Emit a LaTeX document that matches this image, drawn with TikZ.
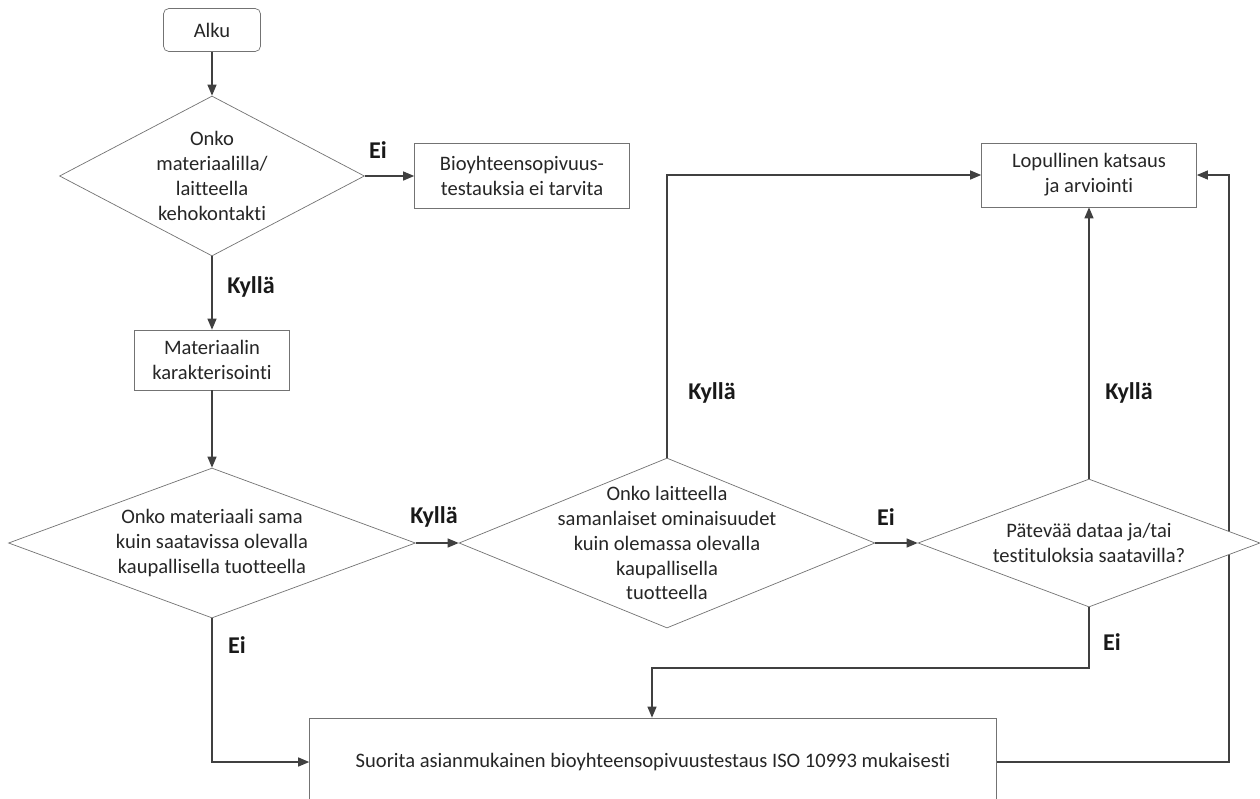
\documentclass[tikz,border=0pt]{standalone}
\usepackage{fontspec}
\setmainfont{Carlito}[Ligatures={NoCommon,NoRequired,NoContextual}]
\usetikzlibrary{positioning,arrows.meta,shapes.geometric,backgrounds}
\tikzset{
  box/.style={draw=black!55, fill=white, minimum width=4.3cm, minimum height=1.3cm, align=center, font=\fontsize{11.7}{14.2}\selectfont, text=black!85},
  start/.style={box, rounded corners=3pt, minimum width=1.94cm, minimum height=0.86cm},
  dec/.style={draw=black!55, fill=white, diamond, inner sep=0pt},
  txt/.style={align=center, font=\fontsize{11.7}{14.2}\selectfont, text=black!85},
  lbl/.style={font=\fontsize{13.7}{16}\selectfont\bfseries, text=black!90},
  arr/.style={-{Triangle[length=2.2mm, width=1.8mm]}, draw=black!75, line width=0.7pt},
}
\begin{document}
\begin{tikzpicture}[x=0.02cm, y=-0.02cm]
\useasboundingbox (0,0) rectangle (1260,798);
\node[start] (alku) at (212,30) {Alku};
\node[dec, minimum width=6.1cm, minimum height=3.2cm, label={[txt]center:Onko\\materiaalilla/\\laitteella\\kehokontakti}] (d1) at (212,176) {};
\node[box] (bio) at (522,176) {Bioyhteensopivuus-\\testauksia ei tarvita};
\node[box, minimum width=3.1cm, minimum height=1.2cm] (mat) at (212,360) {Materiaalin\\karakterisointi};
\node[dec, minimum width=8.14cm, minimum height=3cm, label={[txt]center:Onko materiaali sama\\kuin saatavissa olevalla\\kaupallisella tuotteella}] (d2) at (212,543) {};
\node[dec, minimum width=8.32cm, minimum height=3.4cm, label={[txt]center:Onko laitteella\\samanlaiset ominaisuudet\\kuin olemassa olevalla\\kaupallisella\\tuotteella}] (d3) at (667,543) {};
\node[dec, minimum width=6.84cm, minimum height=2.56cm, label={[txt]center:Pätevää dataa ja/tai\\testituloksia saatavilla?}] (d4) at (1089,543) {};
\node[box, minimum height=1.28cm] (lop) at (1089,175) {Lopullinen katsaus\\ja arviointi};
\node[box, minimum width=13.74cm, minimum height=1.76cm] (test) at (653,762) {Suorita asianmukainen bioyhteensopivuustestaus ISO 10993 mukaisesti};
\coordinate (j) at (652,668);
\coordinate (rt) at (1229,400);
% labels
\node[lbl] (ei1) at (378,150) {Ei};
\node[lbl] (ky1) at (251,287) {Kyllä};
\node[lbl] (ky2) at (434,517) {Kyllä};
\node[lbl] (ky3) at (712,393) {Kyllä};
\node[lbl] (ei2) at (886,517) {Ei};
\node[lbl] (ky4) at (1129,393) {Kyllä};
\node[lbl] (ei3) at (1112,642) {Ei};
\node[lbl] (ei4) at (237,645) {Ei};
% connectors
\draw[arr] (alku) -- (d1);
\draw[arr] (d1) -- (bio);
\draw[arr] (d1) -- (mat);
\draw[arr] (mat) -- (d2);
\draw[arr] (d2) -- (d3);
\draw[arr] (d3) |- (lop);
\draw[arr] (d3) -- (d4);
\draw[arr] (d4) -- (lop);
\draw[arr] (d2) |- (test);
\draw[arr] (d4) |- (j) -- (j |- test.north);
\begin{pgfonlayer}{background}
\draw[arr] (test) -| (rt) |- (lop);
\end{pgfonlayer}
\end{tikzpicture}
\end{document}
